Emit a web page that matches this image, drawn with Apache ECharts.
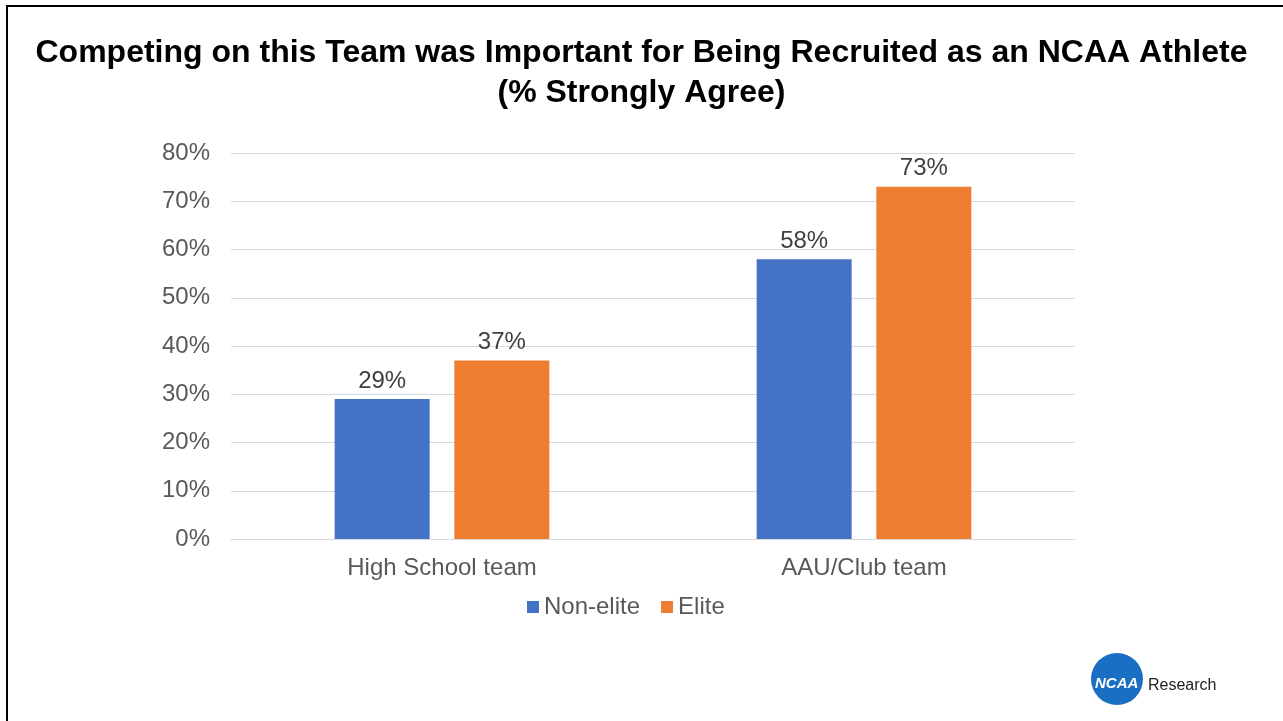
<!DOCTYPE html>
<html><head><meta charset="utf-8">
<script src="https://cdn.jsdelivr.net/npm/echarts@6/dist/echarts.min.js"></script>
<style>
html,body{margin:0;padding:0;background:#fff;}
#frame{position:absolute;left:6px;top:5px;width:1290px;height:730px;border-left:2px solid #000;border-top:2px solid #000;}
#chart{position:absolute;left:0;top:0;width:1283px;height:721px;}
</style>
</head><body>
<div id="frame"></div>
<div id="chart"></div>
<script>
const categories = ['High School team', 'AAU/Club team'];
const seriesNames = ['Non-elite', 'Elite'];
const nonElite = [29, 58];
const elite = [37, 73];
const yTicks = [0, 10, 20, 30, 40, 50, 60, 70, 80];

const chart = echarts.init(document.getElementById('chart'), null, {renderer: 'canvas'});
const font = '"Liberation Sans", Arial, sans-serif';
chart.setOption({
  animation: false,
  backgroundColor: 'transparent',
  title: {
    text: 'Competing on this Team was Important for Being Recruited as an NCAA Athlete\n(% Strongly Agree)',
    left: 'center', top: 28,
    textStyle: {fontFamily: font, fontSize: 32, fontWeight: 'bold', color: '#000', lineHeight: 40}
  },
  legend: {
    data: seriesNames, top: 590, left: 522, itemWidth: 12, itemHeight: 12, itemGap: 21,
    icon: 'rect',
    textStyle: {fontFamily: font, fontSize: 24, color: '#595959', padding: [0, 0, 0, 0]}
  },
  grid: {left: 231, right: 208, top: 153, bottom: 182},
  xAxis: {
    type: 'category', data: categories,
    axisLine: {lineStyle: {color: '#d9d9d9'}}, axisTick: {show: false},
    axisLabel: {fontFamily: font, fontSize: 24, color: '#595959', margin: 17}
  },
  yAxis: {
    type: 'value', min: yTicks[0], max: yTicks[yTicks.length - 1], interval: 10,
    axisLine: {show: false}, axisTick: {show: false},
    splitLine: {lineStyle: {color: '#d9d9d9'}},
    axisLabel: {fontFamily: font, fontSize: 24, color: '#595959', margin: 21, formatter: v => v + '%'}
  },
  series: [
    {name: seriesNames[0], type: 'bar', data: nonElite, barWidth: 95, barGap: '26%',
     itemStyle: {color: '#4472c4'},
     label: {show: true, position: 'top', distance: 6, formatter: p => p.value + '%', fontFamily: font, fontSize: 24, color: '#404040'}},
    {name: seriesNames[1], type: 'bar', data: elite, barWidth: 95, barGap: '26%',
     itemStyle: {color: '#ed7d31'},
     label: {show: true, position: 'top', distance: 6, formatter: p => p.value + '%', fontFamily: font, fontSize: 24, color: '#404040'}}
  ],
  graphic: [
    {type: 'circle', shape: {cx: 1117, cy: 679, r: 26}, style: {fill: '#1a6fc2'}},
    {type: 'text', x: 1095, y: 684, style: {text: 'NCAA', fill: '#fff', font: 'italic bold 15px ' + font, textVerticalAlign: 'middle'}},
    {type: 'text', x: 1148, y: 686, style: {text: 'Research', fill: '#222', font: '16px ' + font, textVerticalAlign: 'middle'}}
  ]
});
</script>
</body></html>
